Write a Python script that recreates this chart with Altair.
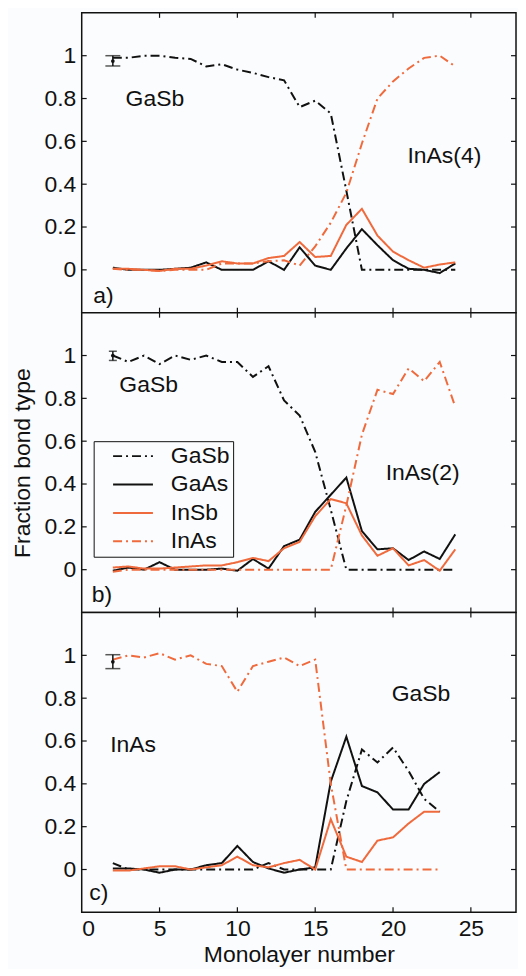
import altair as alt
import pandas as pd

# ---------------- data ----------------
x_ab = [2, 3, 4, 5, 6, 7, 8, 9, 10, 11, 12, 13, 14, 15, 16, 17, 18, 19, 20, 21, 22, 23, 24]
x_c = [2, 3, 4, 5, 6, 7, 8, 9, 10, 11, 12, 13, 14, 15, 16, 17, 18, 19, 20, 21, 22, 23]

# panel a) GaSb / InAs(4)
gasb_a = [0.99, 0.99, 1.0, 1.0, 0.99, 0.985, 0.95, 0.96, 0.935, 0.92, 0.90, 0.885, 0.76, 0.79, 0.73, 0.37,
          0.0, 0.0, 0.0, 0.0, 0.0, 0.0, 0.0]
gaas_a = [0.01, 0.0, 0.0, 0.0, 0.005, 0.01, 0.035, 0.0, 0.0, 0.0, 0.04, 0.0, 0.105, 0.02, 0.0, 0.10,
          0.19, 0.115, 0.045, 0.005, 0.0, -0.015, 0.03]
insb_a = [0.005, 0.005, 0.0, -0.005, 0.005, 0.005, 0.02, 0.04, 0.03, 0.03, 0.055, 0.065, 0.13, 0.06, 0.065,
          0.21, 0.285, 0.16, 0.085, 0.045, 0.01, 0.025, 0.035]
inas_a = [0.005, 0.0, 0.0, -0.005, 0.0, 0.0, 0.0, 0.03, 0.03, 0.03, 0.04, 0.045, 0.02, 0.11, 0.22, 0.36,
          0.59, 0.80, 0.88, 0.94, 0.99, 1.0, 0.95]

# panel b) GaSb / InAs(2)
gasb_b = [1.0, 0.97, 1.0, 0.96, 1.0, 0.98, 1.0, 0.97, 0.97, 0.90, 0.95, 0.79, 0.72, 0.55, 0.28, 0.0,
          0.0, 0.0, 0.0, 0.0, 0.0, 0.0, 0.0]
gaas_b = [-0.005, 0.01, 0.0, 0.035, 0.0, 0.0, 0.0, 0.005, -0.005, 0.05, 0.005, 0.11, 0.14, 0.27, 0.35,
          0.43, 0.18, 0.095, 0.1, 0.045, 0.085, 0.05, 0.165]
insb_b = [0.01, 0.015, 0.005, 0.005, 0.01, 0.015, 0.02, 0.02, 0.035, 0.055, 0.04, 0.10, 0.13, 0.25, 0.33,
          0.31, 0.16, 0.065, 0.10, 0.02, 0.045, -0.005, 0.095]
inas_b = [-0.01, 0.0, 0.0, 0.0, 0.0, 0.0, 0.0, 0.0, 0.0, 0.0, 0.0, 0.0, 0.0, 0.0, 0.0, 0.30,
          0.63, 0.84, 0.82, 0.94, 0.88, 0.97, 0.76]

# panel c) InAs / GaSb
gasb_c = [0.03, 0.0, 0.0, 0.0, 0.0, 0.0, 0.0, 0.0, 0.0, 0.0, 0.03, 0.0, 0.0, 0.0, 0.0, 0.32,
          0.56, 0.50, 0.57, 0.46, 0.33, 0.27]
gaas_c = [0.005, 0.005, 0.0, -0.015, 0.0, 0.0, 0.02, 0.03, 0.11, 0.035, 0.005, -0.015, 0.0, 0.01, 0.41,
          0.62, 0.39, 0.36, 0.28, 0.28, 0.40, 0.455]
insb_c = [-0.005, -0.005, 0.005, 0.015, 0.015, 0.0, 0.01, 0.02, 0.06, 0.02, 0.01, 0.03, 0.045, 0.0, 0.235,
          0.06, 0.035, 0.135, 0.15, 0.215, 0.27, 0.27]
inas_c = [0.98, 1.0, 0.99, 1.01, 0.98, 1.0, 0.96, 0.95, 0.83, 0.95, 0.97, 0.99, 0.95, 0.98, 0.40,
          0.0, 0.0, 0.0, 0.0, 0.0, 0.0, 0.0]

bonds = ["GaSb", "GaAs", "InSb", "InAs"]

# error bars (x, low, mid, high) per panel
err_x = [2, 2, 2]
err_lo = [0.952, 0.977, 0.938]
err_mid = [0.975, 1.0, 0.97]
err_hi = [1.0, 1.02, 1.003]

# annotations per panel
ann = {
    "a": (["GaSb", "InAs(4)", "a)"], [4.7, 23.3, 1.4], [0.80, 0.53, -0.12]),
    "b": (["GaSb", "InAs(2)", "b)"], [4.3, 21.9, 1.3], [0.86, 0.45, -0.12]),
    "c": (["GaSb", "InAs", "c)"], [21.8, 3.3, 1.1], [0.82, 0.58, -0.11]),
}

y_tick_vals = [0, 0.2, 0.4, 0.6, 0.8, 1.0]
x_tick_vals = [0, 5, 10, 15, 20, 25]

# ---------------- styling ----------------
BLACK = "#111111"
ORANGE = "#ef6a3c"
BG = "#fbfcfd"
FONT = "Liberation Sans"
FS = 23
W, H = 436, 301
TL = 5  # tick length

bond_colors = [BLACK, BLACK, ORANGE, ORANGE]
bond_dash = [[9, 4, 2, 4], [1, 0], [1, 0], [9, 4, 2, 4]]

xscale = alt.Scale(domain=[0, 27.9], nice=False, zero=False)
yscale = alt.Scale(domain=[-0.2, 1.2], nice=False, zero=False)

panel_series = {
    "a": (x_ab, [gasb_a, gaas_a, insb_a, inas_a]),
    "b": (x_ab, [gasb_b, gaas_b, insb_b, inas_b]),
    "c": (x_c, [gasb_c, gaas_c, insb_c, inas_c]),
}

legend = alt.Legend(
    title=None, orient="none", legendX=12, legendY=430,
    symbolType="M0.9,0H8.9", symbolSize=100, symbolStrokeWidth=2,
    labelFontSize=FS, labelFont=FONT, labelColor=BLACK, labelOffset=51,
    labelExpr="datum.label + '\u2002'",
    strokeColor=BLACK, fillColor=BG, padding=3.5, rowPadding=4.5,
)


def panel(key, idx):
    xs, series = panel_series[key]
    rows = []
    for b, vals in zip(bonds, series):
        for xv, yv in zip(xs, vals):
            rows.append({"x": xv, "value": yv, "bond": b})
    df = pd.DataFrame(rows)

    if key == "c":
        xaxis = alt.Axis(values=x_tick_vals, ticks=False, domain=False, grid=False,
                         labelFontSize=FS, labelFont=FONT, labelColor=BLACK, labelPadding=5,
                         title="Monolayer number", titleFontSize=FS, titleFont=FONT,
                         titleFontWeight="normal", titleColor=BLACK, titlePadding=3)
    else:
        xaxis = None
    if key == "b":
        yaxis = alt.Axis(values=y_tick_vals, format="~g", ticks=False, domain=False, grid=False,
                         labelFontSize=FS, labelFont=FONT, labelColor=BLACK, labelPadding=6,
                         title="Fraction bond type", titleFontSize=FS, titleFont=FONT,
                         titleFontWeight="normal", titleColor=BLACK, titlePadding=9)
    else:
        yaxis = alt.Axis(values=y_tick_vals, format="~g", ticks=False, domain=False, grid=False,
                         labelFontSize=FS, labelFont=FONT, labelColor=BLACK, labelPadding=6,
                         title=None)

    lines = alt.Chart(df).mark_line(strokeWidth=2).encode(
        x=alt.X("x:Q", scale=xscale, axis=xaxis),
        y=alt.Y("value:Q", scale=yscale, axis=yaxis),
        color=alt.Color("bond:N", scale=alt.Scale(domain=bonds, range=bond_colors), legend=legend),
        strokeDash=alt.StrokeDash("bond:N", scale=alt.Scale(domain=bonds, range=bond_dash), legend=legend),
        order=alt.Order("x:Q"),
    )

    ydf = pd.DataFrame({"y": y_tick_vals})
    xdf = pd.DataFrame({"x": x_tick_vals[1:]})
    tick_l = alt.Chart(ydf).mark_rule(color=BLACK, strokeWidth=1.2).encode(
        y=alt.Y("y:Q", scale=yscale), x=alt.value(0), x2=alt.value(TL))
    tick_r = alt.Chart(ydf).mark_rule(color=BLACK, strokeWidth=1.2).encode(
        y=alt.Y("y:Q", scale=yscale), x=alt.value(W - TL), x2=alt.value(W))
    tick_t = alt.Chart(xdf).mark_rule(color=BLACK, strokeWidth=1.2).encode(
        x=alt.X("x:Q", scale=xscale), y=alt.value(0), y2=alt.value(TL))
    tick_b = alt.Chart(xdf).mark_rule(color=BLACK, strokeWidth=1.2).encode(
        x=alt.X("x:Q", scale=xscale), y=alt.value(H - TL), y2=alt.value(H))

    edf = pd.DataFrame({"x": [err_x[idx]], "lo": [err_lo[idx]], "mid": [err_mid[idx]], "hi": [err_hi[idx]]})
    cap = 8 if key == "b" else 15
    e_rule = alt.Chart(edf).mark_rule(color=BLACK, strokeWidth=1.5).encode(
        x=alt.X("x:Q", scale=xscale), y=alt.Y("lo:Q", scale=yscale), y2="hi:Q")
    e_lo = alt.Chart(edf).mark_tick(color=BLACK, orient="horizontal", size=cap, thickness=1.5).encode(
        x=alt.X("x:Q", scale=xscale), y=alt.Y("lo:Q", scale=yscale))
    e_hi = alt.Chart(edf).mark_tick(color=BLACK, orient="horizontal", size=cap, thickness=1.5).encode(
        x=alt.X("x:Q", scale=xscale), y=alt.Y("hi:Q", scale=yscale))
    e_mid = alt.Chart(edf).mark_circle(color=BLACK, size=14, opacity=1).encode(
        x=alt.X("x:Q", scale=xscale), y=alt.Y("mid:Q", scale=yscale))

    texts, tx, ty = ann[key]
    tdf = pd.DataFrame({"label": texts, "x": tx, "y": ty})
    txt = alt.Chart(tdf).mark_text(fontSize=FS, font=FONT, color=BLACK, align="center",
                                   baseline="middle").encode(
        x=alt.X("x:Q", scale=xscale), y=alt.Y("y:Q", scale=yscale), text="label:N")

    return alt.layer(lines, tick_l, tick_r, tick_t, tick_b, e_rule, e_lo, e_hi, e_mid, txt).properties(
        width=W, height=H)


chart = alt.vconcat(panel("a", 0), panel("b", 1), panel("c", 2), spacing=0, bounds="flush").properties(
    padding={"left": 3, "top": 1, "right": 0, "bottom": 0},
    background=BG,
).configure_view(
    stroke=BLACK, strokeWidth=1.5, fill=BG
)

chart.save("out.html", embed_options={"renderer": "svg", "actions": False})
